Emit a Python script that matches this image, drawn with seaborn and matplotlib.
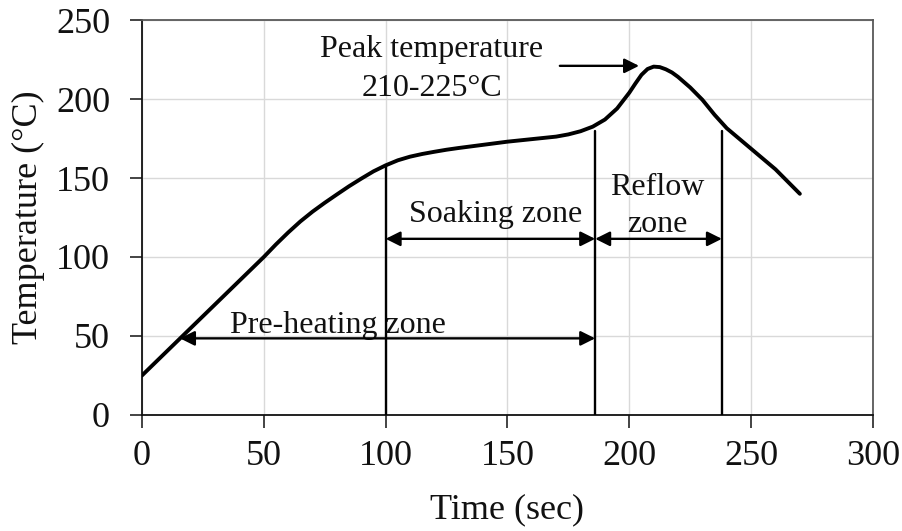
import matplotlib
matplotlib.use("Agg")
import matplotlib.pyplot as plt
import seaborn as sns
import pandas as pd

# Reflow soldering temperature profile
time_s = [0, 10, 20, 30, 40, 45, 50, 55, 60, 65, 70, 75, 80, 85, 90, 95,
          100, 105, 110, 115, 120, 125, 130, 140, 150, 160, 170, 175, 180,
          185, 190, 195, 200, 202.5, 205, 207.5, 210, 212.5, 215, 217.5,
          220, 225, 230, 235, 240, 245, 250, 260, 270]
temp_c = [25, 40, 55, 70, 85, 92.5, 100, 108, 115.5, 122.5, 128.7, 134.3,
          139.6, 144.8, 149.6, 154.2, 158, 161.2, 163.5, 165.2, 166.6, 167.9,
          169, 171, 173, 174.6, 176.2, 177.6, 179.6, 182.5, 187, 194, 204,
          209.8, 215.3, 219, 220.5, 220.2, 218.8, 216.8, 214, 207.3, 199.5,
          190, 181.5, 175, 168.5, 155.5, 140]

# Zone boundaries (time, height of the marker line)
zone_times = [100, 186, 238]
zone_tops = [158, 180, 180]

# Zone arrows: (start, end, level)
preheat_span = (15.6, 186, 48.5)
soak_span = (100, 186, 111.5)
reflow_span = (186, 238, 111.5)
peak_arrow = (171.5, 204, 221)

x_ticks = [0, 50, 100, 150, 200, 250, 300]
y_ticks = [0, 50, 100, 150, 200, 250]

sns.set_theme(style="whitegrid")
plt.rcParams["font.family"] = ["Liberation Serif", "DejaVu Serif"]

fig = plt.figure(figsize=(9.02, 5.31), dpi=100)
ax = fig.add_axes([0.1574, 0.2185, 0.8104, 0.7438])

df = pd.DataFrame({"Time": time_s, "Temperature": temp_c})
sns.lineplot(data=df, x="Time", y="Temperature", ax=ax, color="black",
             linewidth=2.8, zorder=4, solid_joinstyle="round",
             solid_capstyle="round")

# Zone boundary lines
for t, top in zip(zone_times, zone_tops):
    ax.plot([t, t], [0, top], color="black", linewidth=1.7, zorder=3)

arrow_kw = dict(arrowstyle="<|-|>", color="black", lw=1.7,
                mutation_scale=22, shrinkA=0, shrinkB=0)
for x0, x1, y in (preheat_span, soak_span, reflow_span):
    ax.annotate("", xy=(x1, y), xytext=(x0, y), arrowprops=arrow_kw,
                zorder=5)

x0, x1, y = peak_arrow
ax.annotate("", xy=(x1, y), xytext=(x0, y),
            arrowprops=dict(arrowstyle="-|>", color="black", lw=1.7,
                            mutation_scale=22, shrinkA=0, shrinkB=0),
            zorder=5)

txt = dict(fontsize=23, color="#111111", ha="center", va="baseline")
ax.text(119, 226.5, "Peak temperature", **txt)
ax.text(119, 202, "210-225°C", **txt)
ax.text(145.3, 122.3, "Soaking zone", **txt)
ax.text(211.5, 139.2, "Reflow", **txt)
ax.text(211.5, 116, "zone", **txt)
ax.text(80.6, 51.7, "Pre-heating zone", **txt)

ax.set_xlim(0, 300)
ax.set_ylim(0, 250)
ax.set_xticks(x_ticks)
ax.set_yticks(y_ticks)
ax.grid(True, color="#d9d9d9", linewidth=1.0)
ax.set_axisbelow(True)

ax.set_xlabel("Time (sec)", fontsize=26, color="#111111", labelpad=15)
ax.set_ylabel("Temperature (°C)", fontsize=26, color="#111111", labelpad=8)
ax.tick_params(axis="both", which="major", labelsize=26, colors="#111111",
               length=9, width=1.1, direction="out", pad=9)
ax.tick_params(axis="y", left=True, pad=14)
ax.tick_params(axis="x", bottom=True)

for side in ("left", "bottom"):
    ax.spines[side].set_color("#111111")
    ax.spines[side].set_linewidth(1.3)
for side in ("top", "right"):
    ax.spines[side].set_color("#595959")
    ax.spines[side].set_linewidth(1.3)

fig.savefig("out.png", dpi=100)
